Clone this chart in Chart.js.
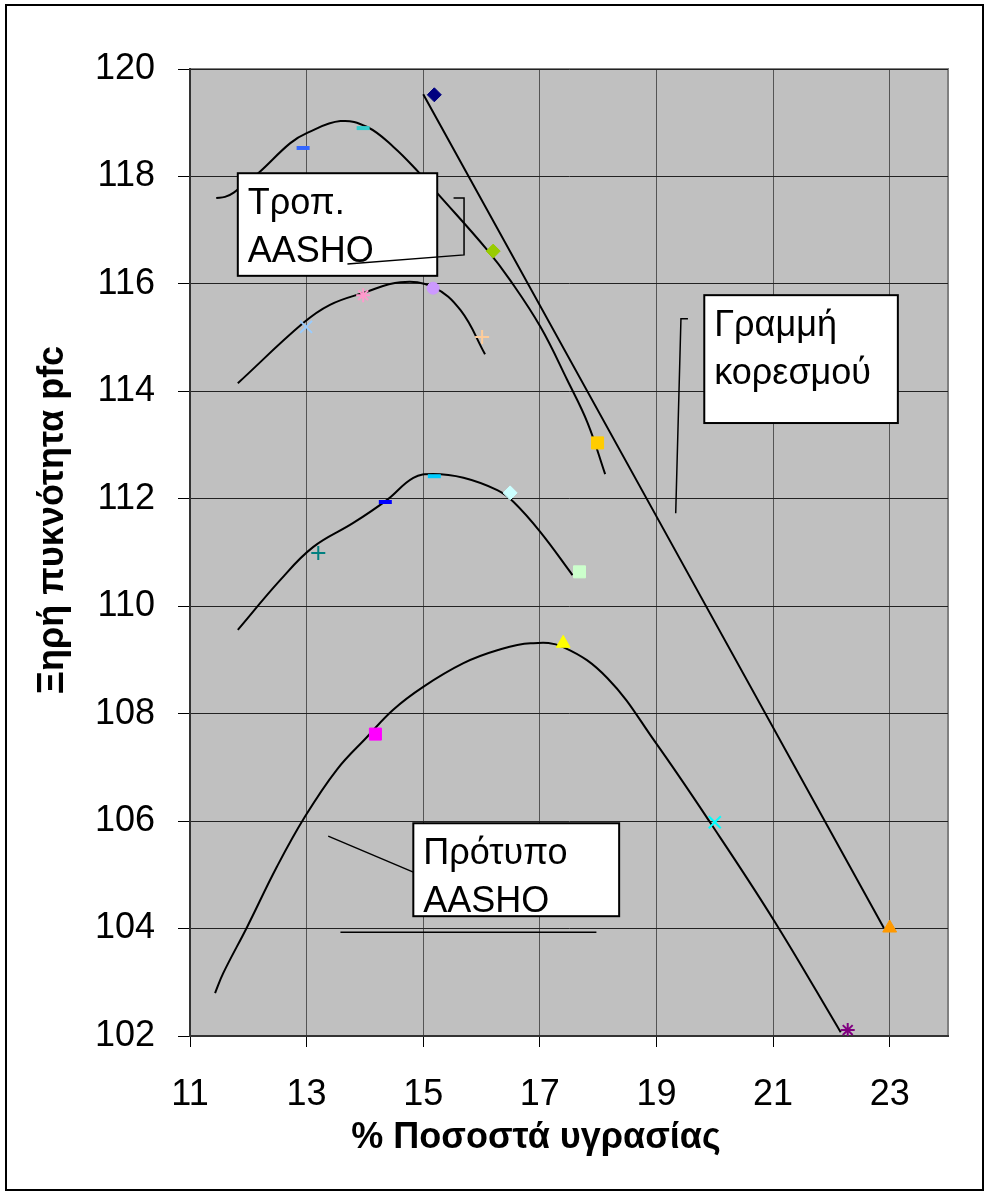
<!DOCTYPE html>
<html lang="el">
<head>
<meta charset="utf-8">
<title>Ξηρή πυκνότητα - υγρασία</title>
<script src="https://cdn.jsdelivr.net/npm/chart.js@4.4.1/dist/chart.umd.min.js"></script>
<style>
  body { margin: 0; background: #fff; }
  #grafico { display: block; }
</style>
</head>
<body>
<canvas id="grafico" width="989" height="1193"></canvas>
<script>
// ticks de los ejes
const ticksX = [11, 13, 15, 17, 19, 21, 23];
const ticksY = [102, 104, 106, 108, 110, 112, 114, 116, 118, 120];

// puntos medidos (% humedad, densidad seca pcf)
const puntosX = [12.94, 13.97, 15.19, 16.2, 17.99, 12.99, 13.97, 15.17, 16.01, 13.2, 14.35, 15.19, 16.49, 17.68, 14.18, 17.4, 20.0, 22.28, 23.0];
const puntosY = [118.53, 118.9, 119.52, 116.61, 113.04, 115.2, 115.79, 115.92, 115.01, 110.99, 111.94, 112.42, 112.11, 110.64, 107.62, 109.31, 105.98, 102.11, 104.01];
// estilo de cada punto (marcador y color)
const marcadores = ['line', 'line', 'rectRot', 'rectRot', 'rect', 'crossRot', 'star', 'circle', 'cross', 'cross', 'line', 'line', 'rectRot', 'rect', 'rect', 'triangle', 'crossRot', 'star', 'triangle'];
const colores = ['#3366FF', '#33CCCC', '#000080', '#99CC00', '#FFCC00', '#99CCFF', '#FF99CC', '#CC99FF', '#FFCC99', '#008080', '#0000FF', '#00CCFF', '#CCFFFF', '#CCFFCC', '#FF00FF', '#FFFF00', '#00FFFF', '#800080', '#FF9900'];

// curvas de compactacion
const curvaTropX = [11.45, 11.6, 11.75, 12.17, 12.72, 13.01, 13.58, 14.04, 14.49, 14.92, 15.24, 16.1, 16.49, 17.01, 17.47, 17.82, 18.12];
const curvaTropY = [117.6, 117.62, 117.7, 118.06, 118.62, 118.81, 119.03, 118.92, 118.55, 118.08, 117.69, 116.63, 116.07, 115.2, 114.21, 113.41, 112.46];
const curva2X = [11.82, 12.94, 13.4, 13.97, 14.61, 15.17, 15.64, 16.06];
const curva2Y = [114.15, 115.27, 115.61, 115.83, 116.03, 115.94, 115.51, 114.69];
const curva3X = [11.82, 12.55, 13.11, 13.8, 14.38, 14.83, 15.17, 15.69, 16.27, 16.55, 17.01, 17.56];
const curva3Y = [109.56, 110.49, 111.1, 111.55, 111.98, 112.39, 112.46, 112.39, 112.16, 111.94, 111.38, 110.58];
const curvaStdX = [11.43, 11.57, 11.98, 12.49, 12.97, 13.52, 14.04, 14.48, 15.0, 15.69, 16.27, 16.84, 17.4, 18.16, 18.98, 19.93, 21.01, 22.16];
const curvaStdY = [102.8, 103.17, 104.03, 105.15, 106.08, 106.96, 107.57, 108.07, 108.5, 108.94, 109.18, 109.31, 109.24, 108.66, 107.47, 105.96, 104.16, 102.07];
const saturacionX = [15.0, 22.9];
const saturacionY = [119.53, 104.01];

// notas con recuadro (en unidades de los ejes)
const notas = [
    { texto: ['Τροπ.', 'AASHO'], caja: [11.82, 118.06, 15.24, 116.15] },
    { texto: ['Γραμμή', 'κορεσμού'], caja: [19.82, 115.79, 23.14, 113.41] },
    { texto: ['Πρότυπο', 'AASHO'], caja: [14.83, 105.96, 18.36, 104.23] }
];
const guias = [
    [[13.7, 116.37], [15.7, 116.54], [15.7, 117.6], [15.52, 117.6]],
    [[19.54, 115.35], [19.42, 115.35], [19.33, 111.73]],
    [[13.37, 105.72], [14.83, 105.05]],
    [[13.58, 103.93], [17.97, 103.93]]
];

const fuente = "'Liberation Sans', Arial, sans-serif";

function juntar(xs, ys) {
    return xs.map((x, i) => ({ x: x, y: ys[i] }));
}

function curva(xs, ys) {
    return {
        data: juntar(xs, ys),
        showLine: true,
        borderColor: '#000',
        borderWidth: 2,
        pointRadius: 0,
        tension: 0.4,
        fill: false
    };
}

const radios = { line: 6.5, rectRot: 7, rect: 8.5, crossRot: 8.5, star: 7, circle: 6, cross: 7, triangle: 8 };
const grosores = { line: 4, rectRot: 1, rect: 1, crossRot: 2, star: 2, circle: 1, cross: 2, triangle: 1 };

const fondo = {
    id: 'fondo',
    beforeDraw(chart) {
        const { ctx, chartArea: a } = chart;
        ctx.save();
        ctx.fillStyle = '#fff';
        ctx.fillRect(0, 0, chart.width, chart.height);
        ctx.strokeStyle = '#000';
        ctx.lineWidth = 2;
        ctx.strokeRect(6, 5, 977, 1185);
        ctx.fillStyle = '#C0C0C0';
        ctx.fillRect(a.left, a.top, a.right - a.left, a.bottom - a.top);
        ctx.strokeStyle = '#808080';
        ctx.strokeRect(a.left, a.top, a.right - a.left, a.bottom - a.top);
        ctx.restore();
    },
    afterDatasetsDraw(chart) {
        const { ctx, scales } = chart;
        const px = v => scales.x.getPixelForValue(v);
        const py = v => scales.y.getPixelForValue(v);
        ctx.save();
        notas.forEach(n => {
            const l = px(n.caja[0]), t = py(n.caja[1]), r = px(n.caja[2]), b = py(n.caja[3]);
            ctx.fillStyle = '#fff';
            ctx.fillRect(l, t, r - l, b - t);
            ctx.strokeStyle = '#000';
            ctx.lineWidth = 2;
            ctx.strokeRect(l, t, r - l, b - t);
            ctx.fillStyle = '#000';
            ctx.font = '36px ' + fuente;
            ctx.textAlign = 'left';
            ctx.textBaseline = 'alphabetic';
            n.texto.forEach((linea, i) => ctx.fillText(linea, l + 10, t + 41 + i * 48));
        });
        ctx.strokeStyle = '#000';
        ctx.lineWidth = 1.5;
        guias.forEach(g => {
            ctx.beginPath();
            g.forEach((p, i) => {
                if (i === 0) ctx.moveTo(px(p[0]), py(p[1]));
                else ctx.lineTo(px(p[0]), py(p[1]));
            });
            ctx.stroke();
        });
        ctx.restore();
    },
    afterDraw(chart) {
        const ctx = chart.ctx;
        ctx.save();
        ctx.fillStyle = '#000';
        ctx.font = 'bold 36px ' + fuente;
        ctx.textAlign = 'center';
        ctx.textBaseline = 'middle';
        ctx.fillText('% Ποσοστά υγρασίας', 536, 1138);
        ctx.translate(53, 520);
        ctx.rotate(-Math.PI / 2);
        ctx.fillText('Ξηρή πυκνότητα pfc', 0, 0);
        ctx.restore();
    }
};

new Chart(document.getElementById('grafico'), {
    type: 'scatter',
    data: {
        datasets: [
            {
                data: juntar(puntosX, puntosY),
                pointStyle: marcadores,
                pointRadius: marcadores.map(m => radios[m]),
                pointBorderWidth: marcadores.map(m => grosores[m]),
                pointBackgroundColor: colores,
                pointBorderColor: colores
            },
            curva(curvaTropX, curvaTropY),
            curva(curva2X, curva2Y),
            curva(curva3X, curva3Y),
            curva(curvaStdX, curvaStdY),
            curva(saturacionX, saturacionY)
        ]
    },
    options: {
        responsive: false,
        animation: false,
        layout: { padding: { left: 10, top: 69, right: 41, bottom: 0 } },
        plugins: { legend: { display: false }, tooltip: { enabled: false } },
        scales: {
            x: {
                type: 'linear',
                min: 11,
                max: 24,
                afterBuildTicks: s => { s.ticks = ticksX.map(v => ({ value: v })); },
                afterFit: s => { s.height = 157; },
                ticks: { color: '#000', padding: 26, font: { family: fuente, size: 36 } },
                grid: { color: '#555', lineWidth: 1, tickLength: 11, tickColor: '#000' },
                border: { color: '#333', width: 2 }
            },
            y: {
                type: 'linear',
                min: 102,
                max: 120,
                afterBuildTicks: s => { s.ticks = ticksY.map(v => ({ value: v })); },
                afterFit: s => { s.width = 180; },
                ticks: { color: '#000', padding: 23, font: { family: fuente, size: 36 } },
                grid: { color: '#222', lineWidth: 1, tickLength: 12, tickColor: '#000' },
                border: { color: '#333', width: 2 }
            }
        }
    },
    plugins: [fondo]
});
</script>
</body>
</html>
